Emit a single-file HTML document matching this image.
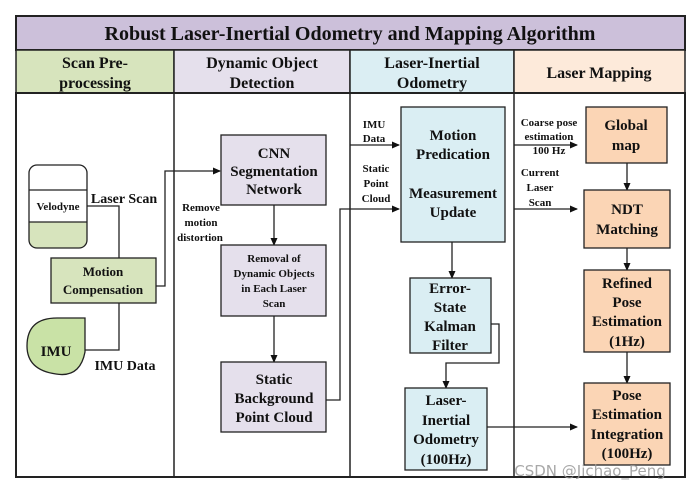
<!DOCTYPE html>
<html><head><meta charset="utf-8"><style>
html,body{margin:0;padding:0;background:#fff;}
svg{display:block;}
text{font-family:"Liberation Serif",serif;font-weight:bold;fill:#111;text-anchor:middle;}
</style></head><body>
<svg width="695" height="491" viewBox="0 0 695 491" xmlns="http://www.w3.org/2000/svg">
<defs><marker id="a" markerWidth="8" markerHeight="8" refX="7" refY="4" orient="auto" markerUnits="userSpaceOnUse"><path d="M0,0.5 L8,4 L0,7.5 z" fill="#111"/></marker></defs>
<!-- frame -->
<rect x="16" y="16" width="669" height="34" fill="#ccc0da" stroke="#222" stroke-width="2"/>
<rect x="16" y="50" width="158" height="43" fill="#d7e4bd" stroke="#222" stroke-width="1.5"/>
<rect x="174" y="50" width="176" height="43" fill="#e5e0ec" stroke="#222" stroke-width="1.5"/>
<rect x="350" y="50" width="164" height="43" fill="#dbeef3" stroke="#222" stroke-width="1.5"/>
<rect x="514" y="50" width="171" height="43" fill="#fdeada" stroke="#222" stroke-width="1.5"/>
<rect x="16" y="93" width="669" height="384" fill="none" stroke="#222" stroke-width="2"/>
<line x1="174" y1="93" x2="174" y2="477" stroke="#222" stroke-width="1.5"/>
<line x1="350" y1="93" x2="350" y2="477" stroke="#222" stroke-width="1.5"/>
<line x1="514" y1="93" x2="514" y2="477" stroke="#222" stroke-width="1.5"/>
<text x="350" y="40" font-size="20">Robust Laser-Inertial Odometry and Mapping Algorithm</text>
<text x="95" y="68" font-size="16">Scan Pre-</text><text x="95" y="88" font-size="16">processing</text>
<text x="262" y="68" font-size="16">Dynamic Object</text><text x="262" y="88" font-size="16">Detection</text>
<text x="432" y="68" font-size="16">Laser-Inertial</text><text x="432" y="88" font-size="16">Odometry</text>
<text x="599" y="78" font-size="16">Laser Mapping</text>

<!-- Velodyne -->
<path d="M29,222 H87 V240 Q87,248 79,248 H37 Q29,248 29,240 Z" fill="#d7e4bd"/>
<rect x="29" y="165" width="58" height="83" rx="8" fill="none" stroke="#222" stroke-width="1.3"/>
<line x1="29" y1="190" x2="87" y2="190" stroke="#222" stroke-width="1.3"/>
<line x1="29" y1="222" x2="87" y2="222" stroke="#222" stroke-width="1.3"/>
<text x="58" y="210" font-size="11">Velodyne</text>
<text x="124" y="203" font-size="14">Laser Scan</text>
<polyline points="87,206 119,206 119,258" fill="none" stroke="#222" stroke-width="1.3"/>
<rect x="51" y="258" width="105" height="45" fill="#d7e4bd" stroke="#222" stroke-width="1.3"/>
<text x="103" y="276" font-size="13">Motion</text><text x="103" y="294" font-size="13">Compensation</text>
<!-- IMU -->
<path d="M57,318 H85 V352 Q80,378 56,374 Q27,370 27,346 Q27,318 57,318 Z" fill="#c9e2a6" stroke="#222" stroke-width="1.3"/>
<text x="56" y="356" font-size="15">IMU</text>
<text x="125" y="370" font-size="14">IMU Data</text>
<polyline points="85,350 119,350 119,303" fill="none" stroke="#222" stroke-width="1.3"/>
<polyline points="156,286 165,286 165,171 220,171" fill="none" stroke="#222" stroke-width="1.3" marker-end="url(#a)"/>
<text x="201" y="211" font-size="11">Remove</text><text x="201" y="226" font-size="11">motion</text><text x="200" y="241" font-size="11">distortion</text>
<!-- dynamic -->
<rect x="221" y="135" width="105" height="70" fill="#e5e0ec" stroke="#222" stroke-width="1.3"/>
<text x="274" y="158" font-size="15">CNN</text><text x="274" y="176" font-size="15">Segmentation</text><text x="274" y="194" font-size="15">Network</text>
<line x1="274" y1="205" x2="274" y2="245" stroke="#222" stroke-width="1.3" marker-end="url(#a)"/>
<rect x="221" y="245" width="105" height="71" fill="#e5e0ec" stroke="#222" stroke-width="1.3"/>
<text x="274" y="262" font-size="11">Removal of</text><text x="274" y="277" font-size="11">Dynamic Objects</text><text x="274" y="292" font-size="11">in  Each Laser</text><text x="274" y="307" font-size="11">Scan</text>
<line x1="274" y1="316" x2="274" y2="362" stroke="#222" stroke-width="1.3" marker-end="url(#a)"/>
<rect x="221" y="362" width="105" height="70" fill="#e5e0ec" stroke="#222" stroke-width="1.3"/>
<text x="274" y="384" font-size="15">Static</text><text x="274" y="403" font-size="15">Background</text><text x="274" y="422" font-size="15">Point Cloud</text>
<polyline points="326,400 340,400 340,209 399,209" fill="none" stroke="#222" stroke-width="1.3" marker-end="url(#a)"/>
<!-- LIO -->
<text x="374" y="128" font-size="11">IMU</text><text x="374" y="142" font-size="11">Data</text>
<line x1="350" y1="145" x2="399" y2="145" stroke="#222" stroke-width="1.3" marker-end="url(#a)"/>
<text x="376" y="172" font-size="11">Static</text><text x="376" y="187" font-size="11">Point</text><text x="376" y="202" font-size="11">Cloud</text>
<rect x="401" y="107" width="104" height="135" fill="#daeef3" stroke="#222" stroke-width="1.3"/>
<text x="453" y="140" font-size="15">Motion</text><text x="453" y="159" font-size="15">Predication</text>
<text x="453" y="198" font-size="15">Measurement</text><text x="453" y="217" font-size="15">Update</text>
<line x1="452" y1="242" x2="452" y2="278" stroke="#222" stroke-width="1.3" marker-end="url(#a)"/>
<rect x="410" y="278" width="81" height="75" fill="#daeef3" stroke="#222" stroke-width="1.3"/>
<text x="450" y="293" font-size="15">Error-</text><text x="450" y="312" font-size="15">State</text><text x="450" y="331" font-size="15">Kalman</text><text x="450" y="350" font-size="15">Filter</text>
<polyline points="491,324 499,324 499,363 446,363 446,388" fill="none" stroke="#222" stroke-width="1.3" marker-end="url(#a)"/>
<rect x="405" y="388" width="82" height="82" fill="#daeef3" stroke="#222" stroke-width="1.3"/>
<text x="446" y="405" font-size="15">Laser-</text><text x="446" y="425" font-size="15">Inertial</text><text x="446" y="444" font-size="15">Odometry</text><text x="446" y="464" font-size="15">(100Hz)</text>
<line x1="487" y1="427" x2="577" y2="427" stroke="#222" stroke-width="1.3" marker-end="url(#a)"/>
<!-- mapping -->
<text x="549" y="126" font-size="11">Coarse pose</text><text x="549" y="140" font-size="11">estimation</text><text x="549" y="154" font-size="11">100 Hz</text>
<line x1="514" y1="145" x2="577" y2="145" stroke="#222" stroke-width="1.3" marker-end="url(#a)"/>
<text x="540" y="176" font-size="11">Current</text><text x="540" y="191" font-size="11">Laser</text><text x="540" y="206" font-size="11">Scan</text>
<line x1="514" y1="209" x2="577" y2="209" stroke="#222" stroke-width="1.3" marker-end="url(#a)"/>
<rect x="586" y="107" width="81" height="56" fill="#fbd5b5" stroke="#222" stroke-width="1.3"/>
<text x="626" y="130" font-size="15">Global</text><text x="626" y="150" font-size="15">map</text>
<line x1="627" y1="163" x2="627" y2="190" stroke="#222" stroke-width="1.3" marker-end="url(#a)"/>
<rect x="584" y="190" width="86" height="58" fill="#fbd5b5" stroke="#222" stroke-width="1.3"/>
<text x="627" y="214" font-size="15">NDT</text><text x="627" y="234" font-size="15">Matching</text>
<line x1="627" y1="248" x2="627" y2="270" stroke="#222" stroke-width="1.3" marker-end="url(#a)"/>
<rect x="584" y="270" width="86" height="82" fill="#fbd5b5" stroke="#222" stroke-width="1.3"/>
<text x="627" y="288" font-size="15">Refined</text><text x="627" y="307" font-size="15">Pose</text><text x="627" y="326" font-size="15">Estimation</text><text x="627" y="346" font-size="15">(1Hz)</text>
<line x1="627" y1="352" x2="627" y2="383" stroke="#222" stroke-width="1.3" marker-end="url(#a)"/>
<rect x="584" y="383" width="86" height="82" fill="#fbd5b5" stroke="#222" stroke-width="1.3"/>
<text x="627" y="400" font-size="15">Pose</text><text x="627" y="419" font-size="15">Estimation</text><text x="627" y="439" font-size="15">Integration</text><text x="627" y="458" font-size="15">(100Hz)</text>
<text x="590" y="476" font-size="15" style="font-family:'DejaVu Sans',sans-serif;font-weight:normal;fill:#999;opacity:0.85">CSDN @Jichao_Peng</text>
</svg>
</body></html>
